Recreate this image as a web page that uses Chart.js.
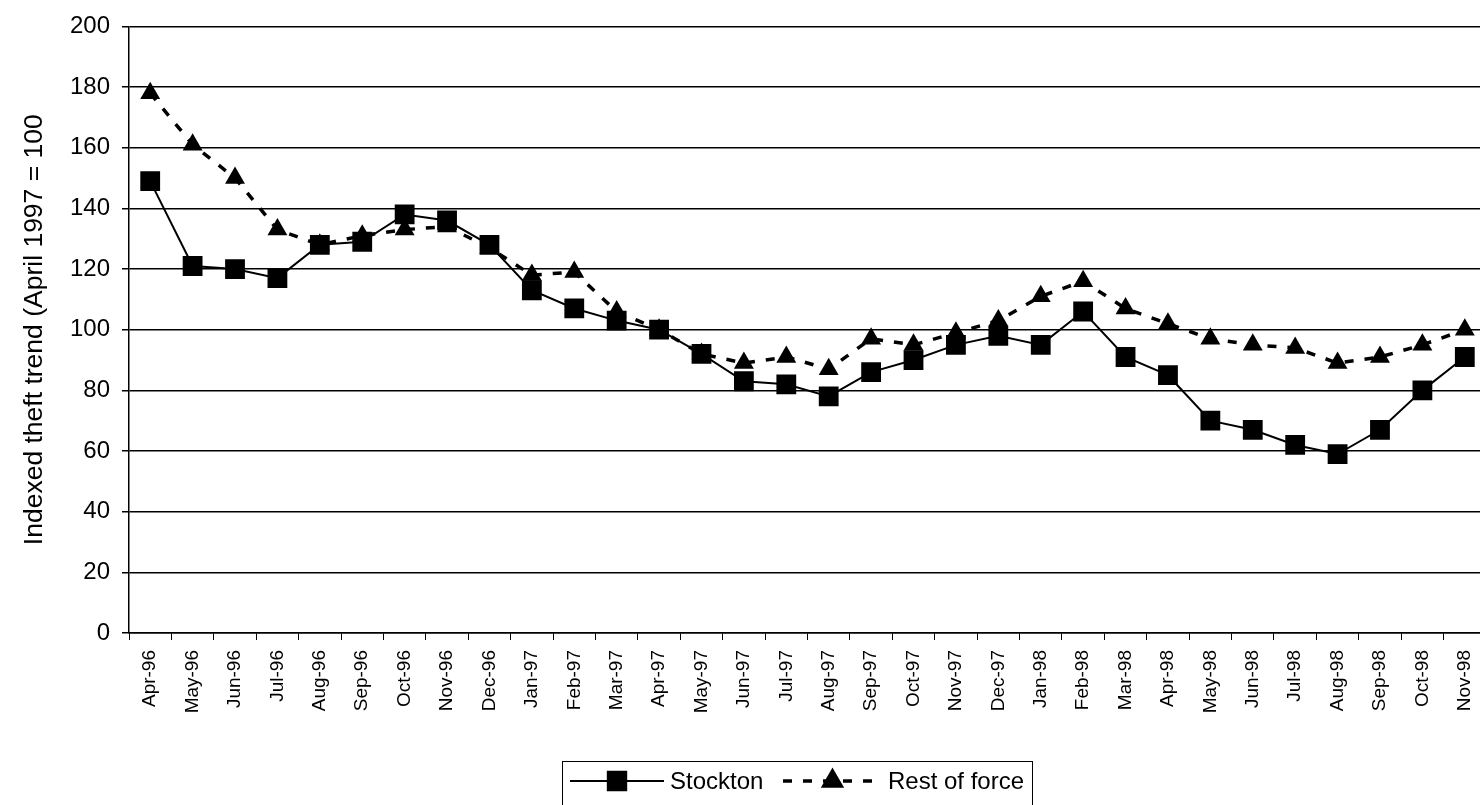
<!DOCTYPE html>
<html lang="en">
<head>
    <meta charset="UTF-8">
    <title>Indexed theft trend</title>
    <script src="https://cdn.jsdelivr.net/npm/chart.js"></script>
    <style>
        body { margin: 0; background: #fff; overflow: hidden; }
        #wrap { width: 1500px; height: 805px; }
    </style>
</head>
<body>
    <div id="wrap"><canvas id="theftChart" width="1500" height="805"></canvas></div>

    <script>
        // months, April 1996 to November 1998
        const months = ['Apr-96', 'May-96', 'Jun-96', 'Jul-96', 'Aug-96', 'Sep-96', 'Oct-96', 'Nov-96',
            'Dec-96', 'Jan-97', 'Feb-97', 'Mar-97', 'Apr-97', 'May-97', 'Jun-97', 'Jul-97', 'Aug-97',
            'Sep-97', 'Oct-97', 'Nov-97', 'Dec-97', 'Jan-98', 'Feb-98', 'Mar-98', 'Apr-98', 'May-98',
            'Jun-98', 'Jul-98', 'Aug-98', 'Sep-98', 'Oct-98', 'Nov-98'];

        const stockton = [149, 121, 120, 117, 128, 129, 138, 136,
            128, 113, 107, 103, 100, 92, 83, 82, 78,
            86, 90, 95, 98, 95, 106, 91, 85, 70,
            67, 62, 59, 67, 80, 91];

        const restOfForce = [178, 161, 150, 133, 128, 131, 133, 134,
            127, 118, 119, 106, 100, 92, 89, 91, 87,
            97, 95, 99, 103, 111, 116, 107, 102, 97,
            95, 94, 89, 91, 95, 100];

        const yTicks = [0, 20, 40, 60, 80, 100, 120, 140, 160, 180, 200];

        const FONT = '"Liberation Sans", Arial, sans-serif';

        // boxed legend like the original spreadsheet chart
        const boxLegend = {
            id: 'boxLegend',
            afterDraw(chart, args, opts) {
                const ctx = chart.ctx;
                ctx.save();
                ctx.strokeStyle = '#000';
                ctx.lineWidth = 1;
                ctx.strokeRect(opts.left + 0.5, opts.top + 0.5, opts.width, 60);

                chart.data.datasets.forEach((ds, i) => {
                    const item = opts.items[i];
                    const y = opts.top + 20;
                    ctx.strokeStyle = ds.borderColor;
                    ctx.lineWidth = ds.borderWidth;
                    ctx.setLineDash(ds.borderDash || []);
                    ctx.beginPath();
                    ctx.moveTo(item.x1, y);
                    ctx.lineTo(item.x2, y);
                    ctx.stroke();
                    ctx.setLineDash([]);
                    Chart.helpers.drawPoint(ctx, {
                        pointStyle: ds.pointStyle,
                        radius: item.r,
                        borderWidth: 1
                    }, (item.x1 + item.x2) / 2, y);
                    ctx.fillStyle = '#000';
                    ctx.fill();

                    ctx.font = '24px ' + FONT;
                    ctx.textBaseline = 'middle';
                    ctx.fillText(ds.label, item.x2 + 6, y + 1);
                });
                ctx.restore();
            }
        };

        const ctx = document.getElementById('theftChart').getContext('2d');
        new Chart(ctx, {
            type: 'line',
            data: {
                labels: months,
                datasets: [{
                    label: 'Stockton',
                    data: stockton,
                    borderColor: '#000',
                    backgroundColor: '#000',
                    borderWidth: 2,
                    pointStyle: 'rect',
                    pointRadius: 14,
                    pointBorderWidth: 0,
                    tension: 0
                }, {
                    label: 'Rest of force',
                    data: restOfForce,
                    borderColor: '#000',
                    backgroundColor: '#000',
                    borderWidth: 3.5,
                    borderDash: [9, 11],
                    pointStyle: 'triangle',
                    pointRadius: 11.5,
                    pointBorderWidth: 0,
                    tension: 0
                }]
            },
            options: {
                responsive: false,
                animation: false,
                layout: { padding: { top: 25, right: 7, left: 0, bottom: 0 } },
                plugins: {
                    legend: { display: false },
                    tooltip: { enabled: false },
                    boxLegend: {
                        left: 562, top: 761, width: 470,
                        items: [
                            { x1: 570, x2: 664, r: 13 },
                            { x1: 783, x2: 882, r: 10 }
                        ]
                    }
                },
                scales: {
                    x: {
                        offset: true,
                        afterFit: (s) => { s.height = 172; },
                        grid: {
                            display: true,
                            offset: true,
                            drawOnChartArea: false,
                            color: '#000',
                            tickLength: 7,
                            lineWidth: 1
                        },
                        border: { display: true, color: '#000', width: 1.5 },
                        ticks: {
                            autoSkip: false,
                            minRotation: 90,
                            maxRotation: 90,
                            padding: 10,
                            color: '#000',
                            font: { family: FONT, size: 19 }
                        }
                    },
                    y: {
                        min: 0,
                        max: 200,
                        afterFit: (s) => { s.width = 129; },
                        afterBuildTicks: (s) => { s.ticks = yTicks.map(v => ({ value: v })); },
                        grid: {
                            color: '#000',
                            lineWidth: 1.5,
                            tickLength: 7
                        },
                        border: { display: true, color: '#000', width: 1.5 },
                        ticks: {
                            padding: 12,
                            color: '#000',
                            font: { family: FONT, size: 24 }
                        },
                        title: {
                            display: true,
                            text: 'Indexed theft trend (April 1997 = 100',
                            color: '#000',
                            padding: { top: 19, bottom: 0 },
                            font: { family: FONT, size: 26.5 }
                        }
                    }
                }
            },
            plugins: [boxLegend]
        });
    </script>
</body>
</html>
